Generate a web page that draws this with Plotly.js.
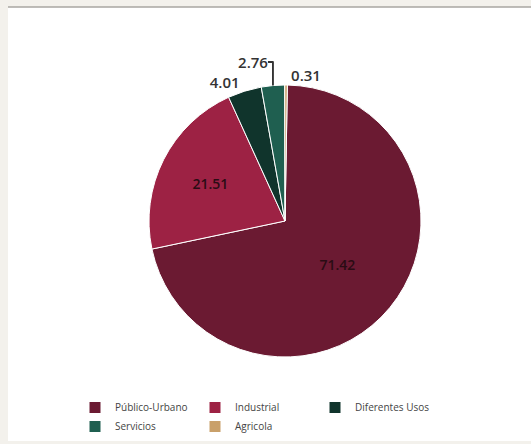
<!DOCTYPE html>
<html>
<head>
<meta charset="utf-8">
<script src="https://cdn.plot.ly/plotly-3.0.1.min.js"></script>
<style>html,body{margin:0;padding:0;background:#ffffff;overflow:hidden;}#chart{width:531px;height:444px;}</style>
</head>
<body>
<div id="chart"></div>
<script>
const categories = ['Público-Urbano', 'Industrial', 'Diferentes Usos', 'Servicios', 'Agricola'];
const values = [71.42, 21.51, 4.01, 2.76, 0.31];
const sliceColors = ['#6b1a32', '#9d2244', '#10342c', '#1f5f50', '#c9a06a'];
const textPositions = ['inside', 'inside', 'outside', 'outside', 'outside'];

const W = 531, H = 444;
const ML = 60, MR = 60;
const PW = W - ML - MR;
const px = v => (v - ML) / PW;
const py = v => (H - v) / H;
const cx = 285, cy = 221, r = 136;

const trace = {
  type: 'pie',
  labels: categories,
  values: values,
  sort: false,
  direction: 'clockwise',
  rotation: 1,
  marker: {colors: sliceColors, line: {color: '#ffffff', width: 1}},
  textinfo: 'value',
  texttemplate: '%{value:.2f}',
  textposition: textPositions,
  insidetextorientation: 'horizontal',
  insidetextfont: {family: 'Open Sans, sans-serif', size: 14, color: '#2a0c14', weight: 600},
  outsidetextfont: {family: 'Open Sans, sans-serif', size: 15, color: '#333333', weight: 600},
  domain: {
    x: [px(cx - r), px(cx + r)],
    y: [py(cy + r), py(cy - r)]
  },
  hoverinfo: 'label+value'
};

const layout = {
  width: W,
  height: H,
  margin: {l: ML, r: MR, t: 0, b: 0, autoexpand: false},
  paper_bgcolor: '#ffffff',
  plot_bgcolor: 'rgba(0,0,0,0)',
  showlegend: true,
  legend: {
    orientation: 'h',
    x: px(75),
    xanchor: 'left',
    y: py(393),
    yanchor: 'top',
    entrywidth: 75,
    entrywidthmode: 'pixels',
    itemwidth: 30,
    font: {family: 'Open Sans, sans-serif', size: 10, color: '#444444'},
    bgcolor: 'rgba(0,0,0,0)',
    traceorder: 'normal'
  },
  shapes: [
    {type: 'rect', xref: 'paper', yref: 'paper', layer: 'below',
     x0: px(-20), x1: px(8), y0: py(H + 20), y1: py(-20),
     fillcolor: '#f3f1ec', line: {width: 0}},
    {type: 'rect', xref: 'paper', yref: 'paper', layer: 'below',
     x0: px(-20), x1: px(W + 20), y0: py(7), y1: py(-20),
     fillcolor: '#f3f1ec', line: {width: 0}},
    {type: 'rect', xref: 'paper', yref: 'paper', layer: 'below',
     x0: px(-20), x1: px(W + 20), y0: py(H + 20), y1: py(441),
     fillcolor: '#f3f1ec', line: {width: 0}},
    {type: 'line', xref: 'paper', yref: 'paper', layer: 'below',
     x0: px(8), x1: px(W + 20), y0: py(7), y1: py(7),
     line: {color: '#a9a6a2', width: 1.5}}
  ]
};

Plotly.newPlot('chart', [trace], layout, {displayModeBar: false, staticPlot: true});
</script>
</body>
</html>
